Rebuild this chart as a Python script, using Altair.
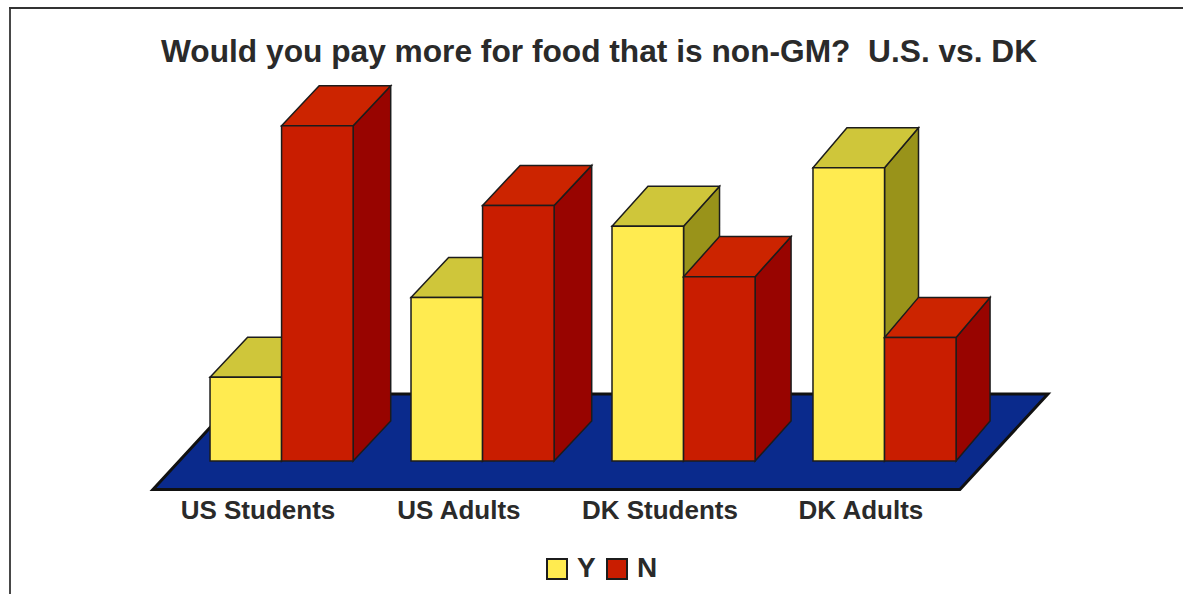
import altair as alt
import pandas as pd

# Share of respondents answering each way, by survey group (percent)
groups = ["US Students", "US Adults", "DK Students", "DK Adults"]
yes_share = [20, 39, 56, 70]
no_share = [80, 61, 44, 29.5]

# The second gap after the question mark is a no-break space so it survives rendering
TITLE = "Would you pay more for food that is non-GM?\u00a0 U.S. vs. DK"
FONT = "Liberation Sans"
INK = "#2a2a2a"
EDGE = "#1c1c1c"

# Face colours of the extruded columns
FRONT = {"Y": "#FFEB50", "N": "#C91D00"}
TOP = {"Y": "#CFC63A", "N": "#CC2400"}
SIDE = {"Y": "#99931A", "N": "#980400"}
FLOOR = "#0A2A8C"

# Scene proportions: x in group spacings, y in percentage points
BAR_W = 0.356
DEPTH_X = [0.187, 0.187, 0.179, 0.169]
DEPTH_Y = 9.55
X_DOMAIN = [-1.045, 4.841]
Y_DOMAIN = [-6.92, 110.02]
FLOOR_FRONT, FLOOR_BACK = -6.8, 16.0
FLOOR_LEFT, FLOOR_RIGHT, FLOOR_SHIFT = -0.284, 3.731, 0.438
LABEL_SHIFT = 0.236

x_scale = alt.Scale(domain=X_DOMAIN, nice=False, zero=False)
y_scale = alt.Scale(domain=Y_DOMAIN, nice=False, zero=False)
color_scale = alt.Scale(domain=["Y", "N"], range=[FRONT["Y"], FRONT["N"]])

# Axis carries the group names; every layer shares it
label_lookup = "[" + ",".join(f"'{g}'" for g in groups) + "][floor(datum.value)]"
x_axis = alt.Axis(
    title=None,
    orient="bottom",
    values=[i + LABEL_SHIFT for i in range(len(groups))],
    labelExpr=label_lookup,
    domain=False,
    ticks=False,
    grid=False,
    labelFont=FONT,
    labelFontSize=26,
    labelFontWeight="bold",
    labelColor=INK,
    labelPadding=7,
)


def polygon(points, fill, width=1.5, stroke=EDGE):
    """A filled shape described by (x, lower, upper) columns."""
    frame = pd.DataFrame(points, columns=["x", "lo", "hi"])
    return alt.Chart(frame).mark_area(
        fill=fill, stroke=stroke, strokeWidth=width, strokeJoin="miter", clip=False
    ).encode(
        x=alt.X("x:Q", scale=x_scale, axis=x_axis),
        y=alt.Y("lo:Q", scale=y_scale, axis=None, stack=None),
        y2="hi:Q",
    )


def column(left, value, series, depth):
    """Side, top and front faces of one column, back to front."""
    right = left + BAR_W
    side = polygon(
        [(right, 0, value), (right + depth, DEPTH_Y, value + DEPTH_Y)], SIDE[series]
    )
    top = polygon(
        [
            (left, value, value),
            (left + depth, value, value + DEPTH_Y),
            (right, value, value + DEPTH_Y),
            (right + depth, value + DEPTH_Y, value + DEPTH_Y),
        ],
        TOP[series],
    )
    frame = pd.DataFrame([{"x": left, "x2": right, "v": value, "answer": series}])
    front = alt.Chart(frame).mark_rect(stroke=EDGE, strokeWidth=1.5).encode(
        x=alt.X("x:Q", scale=x_scale, axis=x_axis),
        x2="x2:Q",
        y=alt.Y("v:Q", scale=y_scale, axis=None),
        y2=alt.datum(0),
        color=alt.Color(
            "answer:N",
            scale=color_scale,
            legend=alt.Legend(
                title=None,
                orient="none",
                legendX=543,
                legendY=555,
                direction="horizontal",
                symbolType="square",
                symbolSize=400,
                symbolStrokeColor=EDGE,
                symbolStrokeWidth=2,
                symbolOpacity=1,
                labelFont=FONT,
                labelFontSize=28,
                labelFontWeight="bold",
                labelColor=INK,
                labelOffset=6,
                columnPadding=7,
                labelLimit=60,
            ),
        ),
    )
    return [side, top, front]


floor = polygon(
    [
        (FLOOR_LEFT, FLOOR_FRONT, FLOOR_FRONT),
        (FLOOR_LEFT + FLOOR_SHIFT, FLOOR_FRONT, FLOOR_BACK),
        (FLOOR_RIGHT, FLOOR_FRONT, FLOOR_BACK),
        (FLOOR_RIGHT + FLOOR_SHIFT, FLOOR_BACK, FLOOR_BACK),
    ],
    FLOOR,
    width=3,
    stroke="#111111",
)

# Frame along the top and left edges only
frame_top = alt.Chart(pd.DataFrame({"k": [0]})).mark_rule(color="#333333", strokeWidth=1.8).encode(
    x=alt.value(9), x2=alt.value(1183), y=alt.value(8)
)
frame_left = alt.Chart(pd.DataFrame({"k": [0]})).mark_rule(color="#333333", strokeWidth=1.8).encode(
    x=alt.value(10), y=alt.value(8), y2=alt.value(594)
)

layers = [frame_top, frame_left, floor]
for i, (y_val, n_val) in enumerate(zip(yes_share, no_share)):
    layers += column(i, y_val, "Y", DEPTH_X[i])
    layers += column(i + BAR_W, n_val, "N", DEPTH_X[i])

chart = (
    alt.layer(*layers)
    .properties(
        width=1183,
        height=490,
        padding={"left": 0, "top": 0, "right": 0, "bottom": 104},
        autosize=alt.AutoSizeParams(type="none"),
        background="#ffffff",
        title=alt.TitleParams(
            TITLE,
            font=FONT,
            fontSize=31.7,
            fontWeight="bold",
            color=INK,
            anchor="start",
            offset=-69,
            dx=161,
        ),
    )
    .configure_view(stroke=None)
    .resolve_scale(color="shared")
)

chart.save("out.html", embed_options={"renderer": "svg", "actions": False})
